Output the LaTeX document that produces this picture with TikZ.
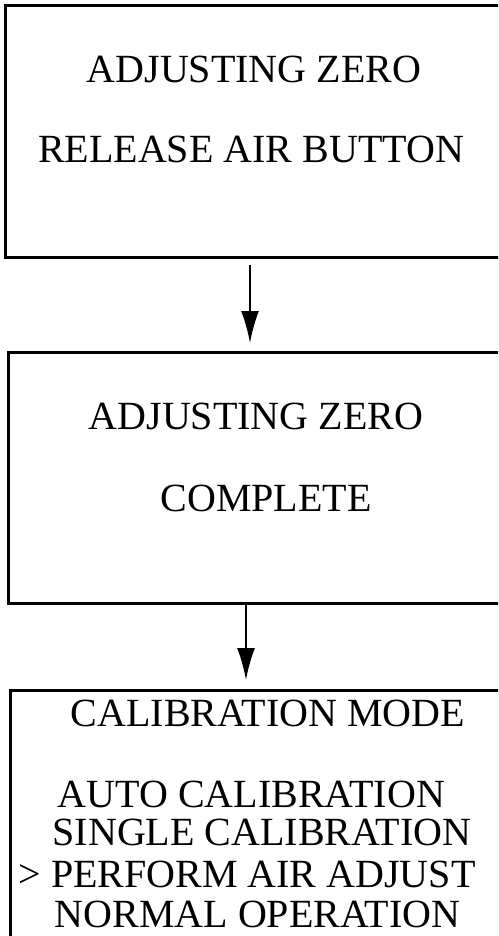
\documentclass[tikz,border=0pt]{standalone}
\usepackage{fontspec}
\setmainfont{Liberation Serif}
\usetikzlibrary{arrows.meta}

\begin{document}
\begin{tikzpicture}[x=1pt,y=-1pt,
  screen/.style={draw,line width=3pt,minimum width=515pt,inner sep=0pt,outer sep=0pt},
  txt/.style={anchor=base,inner sep=0pt,font=\fontsize{40}{48}\selectfont},
  arr/.style={line width=2pt,-{Latex[length=32pt,width=18pt]}}]
\useasboundingbox (0,0) rectangle (498,936);
\clip (0,0) rectangle (498,936);
% screens
\node[screen,minimum height=251pt] at (262.5,131.5) (s1) {};
\node[screen,minimum height=251pt] at (265.5,477.5) (s2) {};
\node[screen,minimum height=270pt] at (267.5,825) (s3) {};
% texts
\node[txt] at (254,83) (t11) {ADJUSTING ZERO};
\node[txt] at (251,163) (t12) {RELEASE AIR BUTTON};
\node[txt] at (256,429) (t21) {ADJUSTING ZERO};
\node[txt] at (266,511) (t22) {COMPLETE};
\node[txt] at (268,726) (t31) {CALIBRATION MODE};
\node[txt] at (251.5,807) (t32) {AUTO CALIBRATION};
\node[txt] at (262,845) (t33) {SINGLE CALIBRATION};
\node[txt] at (247,887) (t34) {> PERFORM AIR ADJUST};
\node[txt] at (257.5,927) (t35) {NORMAL OPERATION};
% arrows
\coordinate (a1) at (250,0);
\coordinate (a2) at (246,0);
\draw[arr,shorten <=8pt,shorten >=9pt] (s1.south -| a1) -- (s2.north -| a1);
\draw[arr,shorten >=10pt] (s2.south -| a2) -- (s3.north -| a2);
\end{tikzpicture}
\end{document}
